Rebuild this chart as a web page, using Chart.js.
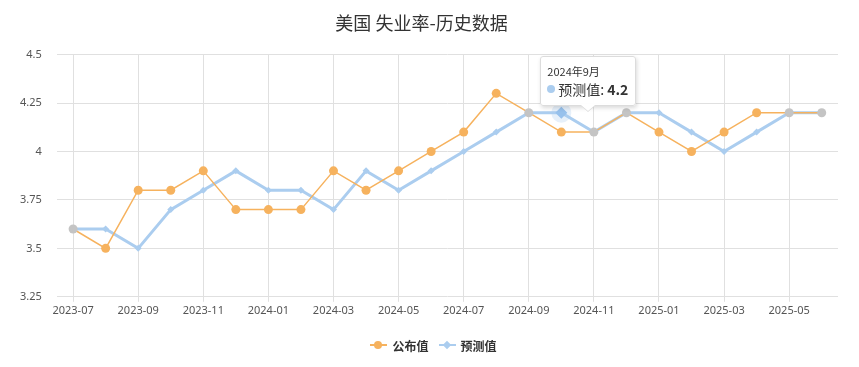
<!DOCTYPE html>
<html>
<head>
<meta charset="utf-8">
<script src="https://cdn.jsdelivr.net/npm/chart.js@4.4.1/dist/chart.umd.min.js"></script>
<style>
    body { margin: 0; background: #fff; }
    #wrap { position: relative; width: 859px; height: 367px; font-family: "Noto Sans CJK SC", "Noto Sans", sans-serif; }
    #legend { position: absolute; left: 0; right: 0; top: 336px; text-align: center; font-size: 12px; font-weight: 600; color: #333; padding-left: 8px; }
    #legend .item { display: inline-flex; align-items: center; margin: 0 5px; }
    #legend .mk { position: relative; width: 17px; height: 10px; margin-right: 5px; }
    #legend .mk .ln { position: absolute; left: 0; right: 0; top: 4px; height: 2px; }
    #legend .mk .pt { position: absolute; left: 4px; top: 1px; width: 8px; height: 8px; border-radius: 50%; }
    #legend .mk .pt.dia { border-radius: 0; width: 6px; height: 6px; left: 5px; top: 2px; transform: rotate(45deg); }
    #tip { position: absolute; display: none; background: rgba(255,255,255,0.95); border: 1px solid #dcdcdc;
        border-radius: 3px; box-shadow: 1px 2px 4px rgba(0,0,0,0.15); padding: 6px 7px 6px 6px; white-space: nowrap; color: #333; }
    #tip .t { font-size: 11px; line-height: 16px; }
    #tip .b { font-size: 14px; line-height: 20px; display: flex; align-items: center; }
    #tip .b i { display: inline-block; width: 8px; height: 8px; border-radius: 50%; margin-right: 3px; }
    #tip .b b { margin-left: 3px; }
    #tip:after, #tip:before { content: ""; position: absolute; left: 50%; border: solid transparent; }
    #tip:before { top: 100%; margin-left: -8px; border-width: 7px 8px 0 8px; border-top-color: #dcdcdc; }
    #tip:after { top: 100%; margin-left: -7px; border-width: 6px 7px 0 7px; border-top-color: #fff; }
</style>
</head>
<body>
<div id="wrap">
    <canvas id="c" width="859" height="367"></canvas>
    <div id="legend"></div>
    <div id="tip"></div>
</div>
<script>
const months = ['2023-07', '2023-08', '2023-09', '2023-10', '2023-11', '2023-12',
    '2024-01', '2024-02', '2024-03', '2024-04', '2024-05', '2024-06',
    '2024-07', '2024-08', '2024-09', '2024-10', '2024-11', '2024-12',
    '2025-01', '2025-02', '2025-03', '2025-04', '2025-05', '2025-06'];
// reporting period shown in the tooltip (one month before release)
const periods = ['2023年6月', '2023年7月', '2023年8月', '2023年9月', '2023年10月', '2023年11月',
    '2023年12月', '2024年1月', '2024年2月', '2024年3月', '2024年4月', '2024年5月',
    '2024年6月', '2024年7月', '2024年8月', '2024年9月', '2024年10月', '2024年11月',
    '2024年12月', '2025年1月', '2025年2月', '2025年3月', '2025年4月', '2025年5月'];
const published = [3.6, 3.5, 3.8, 3.8, 3.9, 3.7, 3.7, 3.7, 3.9, 3.8, 3.9, 4.0,
    4.1, 4.3, 4.2, 4.1, 4.1, 4.2, 4.1, 4.0, 4.1, 4.2, 4.2, 4.2];
const forecast = [3.6, 3.6, 3.5, 3.7, 3.8, 3.9, 3.8, 3.8, 3.7, 3.9, 3.8, 3.9,
    4.0, 4.1, 4.2, 4.2, 4.1, 4.2, 4.2, 4.1, 4.0, 4.1, 4.2, 4.2];
const seriesNames = ['公布值', '预测值'];
const yMin = 3.25, yMax = 4.5, yStep = 0.25;
const activeMonth = '2024-10';

const ORANGE = '#f6b25e';
const BLUE = '#abcdef';
const GRAY = '#c4c4c4';
const GRID = '#e0e0e0';

document.getElementById('legend').innerHTML =
    `<span class="item"><span class="mk"><i class="ln" style="background:${ORANGE}"></i><i class="pt" style="background:${ORANGE}"></i></span>${seriesNames[0]}</span>` +
    `<span class="item"><span class="mk"><i class="ln" style="background:${BLUE}"></i><i class="pt dia" style="background:${BLUE}"></i></span>${seriesNames[1]}</span>`;

function externalTip({ chart, tooltip }) {
    const el = document.getElementById('tip');
    if (tooltip.opacity === 0 || !tooltip.dataPoints.length) { el.style.display = 'none'; return; }
    const p = tooltip.dataPoints[0];
    el.innerHTML = `<div class="t">${periods[p.dataIndex]}</div>` +
        `<div class="b"><i style="background:${BLUE}"></i>${p.dataset.label}:<b>${p.raw}</b></div>`;
    el.style.display = 'block';
    const w = el.offsetWidth, h = el.offsetHeight;
    el.style.left = (tooltip.caretX + 27 - w / 2) + 'px';
    el.style.top = (tooltip.caretY - 7 - h) + 'px';
}

// soft round halo behind the hovered point
const haloPlugin = {
    id: 'halo',
    beforeDatasetDraw(chart, args) {
        if (args.index !== 1) return;
        chart.getActiveElements().forEach(a => {
            const pt = chart.getDatasetMeta(a.datasetIndex).data[a.index];
            const c = chart.ctx;
            c.save();
            c.fillStyle = 'rgba(171,205,239,0.3)';
            c.beginPath();
            c.arc(pt.x, pt.y, 10, 0, Math.PI * 2);
            c.fill();
            c.restore();
        });
    }
};

const ctx = document.getElementById('c').getContext('2d');
const chart = new Chart(ctx, {
    type: 'line',
    data: {
        labels: months,
        datasets: [{
            label: seriesNames[0],
            data: published,
            borderColor: ORANGE,
            borderWidth: 1.5,
            pointStyle: 'circle',
            pointRadius: 4.5,
            pointBorderWidth: 0,
            pointBackgroundColor: c => published[c.dataIndex] === forecast[c.dataIndex] ? GRAY : ORANGE,
            tension: 0
        }, {
            label: seriesNames[1],
            data: forecast,
            borderColor: BLUE,
            borderWidth: 3,
            pointStyle: 'rectRot',
            pointRadius: 3.5,
            pointBorderWidth: 0,
            pointBackgroundColor: BLUE,
            pointHoverRadius: 6,
            pointHoverBackgroundColor: '#97c1ec',
            pointHoverBorderWidth: 0,
            tension: 0
        }]
    },
    plugins: [haloPlugin],
    options: {
        responsive: false,
        animation: false,
        events: [],
        layout: { padding: { left: 5, right: 21, bottom: 48 } },
        plugins: {
            legend: { display: false },
            title: {
                display: true,
                text: '美国 失业率-历史数据',
                color: '#333',
                font: { family: '"Noto Sans CJK SC", sans-serif', size: 18, weight: 'normal' },
                padding: { top: 12, bottom: 21 }
            },
            tooltip: { enabled: false, external: externalTip }
        },
        scales: {
            x: {
                offset: true,
                grid: {
                    offset: false,
                    color: c => c.index % 2 === 0 ? GRID : 'rgba(0,0,0,0)',
                    tickLength: 5
                },
                border: { display: false },
                ticks: {
                    autoSkip: false,
                    maxRotation: 0,
                    padding: 2,
                    color: '#555',
                    font: { family: '"Noto Sans", sans-serif', size: 11 },
                    callback: (v, i) => i % 2 === 0 ? months[i] : ''
                }
            },
            y: {
                min: yMin,
                max: yMax,
                grid: { color: GRID, drawTicks: false },
                border: { display: false },
                ticks: {
                    stepSize: yStep,
                    padding: 15,
                    color: '#555',
                    font: { family: '"Noto Sans", sans-serif', size: 11 },
                    callback: v => String(+v.toFixed(2))
                }
            }
        }
    }
});

const act = [{ datasetIndex: 1, index: months.indexOf(activeMonth) }];
chart.setActiveElements(act);
chart.tooltip.setActiveElements(act, { x: 0, y: 0 });
chart.update();
</script>
</body>
</html>
